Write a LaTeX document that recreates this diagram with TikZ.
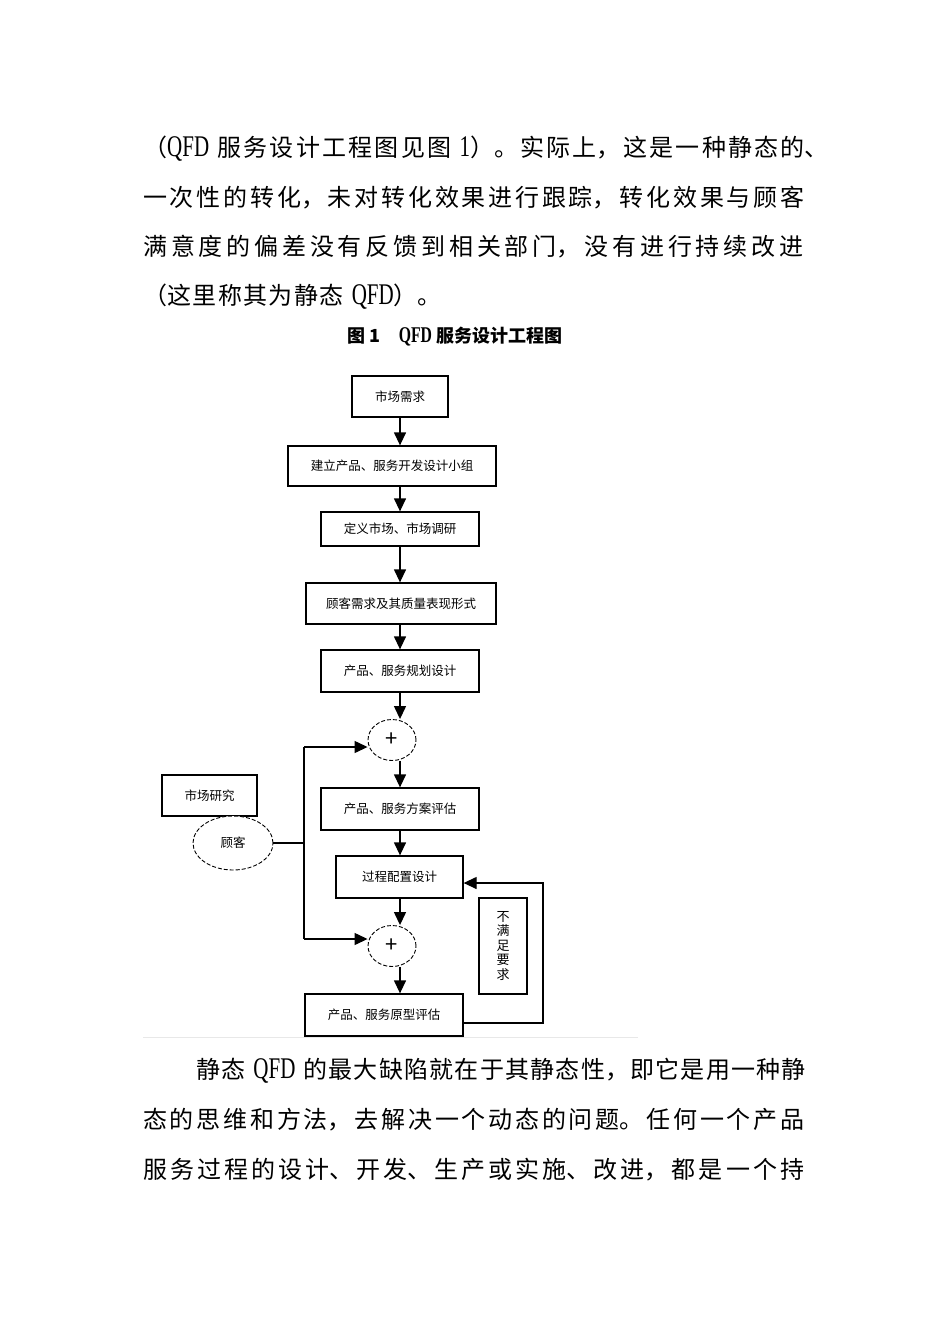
\documentclass[tikz,border=0pt]{standalone}
\usepackage{fontspec}
\usepackage{tikz}
\usetikzlibrary{shapes.geometric, arrows.meta, positioning, calc}
\setmainfont{Noto Sans CJK SC}
\newfontfamily\latinfont[FakeStretch=0.7, Scale=1.25]{Liberation Serif}
\XeTeXlinebreaklocale "zh"
\XeTeXlinebreakskip=0pt plus 1fil
\definecolor{rulegray}{RGB}{232,232,232}

\begin{document}
\begin{tikzpicture}[
    x=1pt, y=-1pt,
    box/.style={rectangle, draw, line width=1.3pt, inner sep=0pt, font=\fontsize{12.5}{15}\selectfont},
    sum/.style={ellipse, draw, fill=white, dash pattern=on 4pt off 2pt, line width=0.9pt, minimum width=48pt, minimum height=41pt, inner sep=0pt, font=\fontsize{22}{22}\selectfont},
    arr/.style={-{Triangle[length=13pt, width=12pt]}, line width=1.3pt},
    link/.style={line width=1.3pt},
    txt/.style={anchor=west, inner sep=0pt, font=\fontsize{24}{24}\selectfont}
]
    \fill[white] (0,0) rectangle (950,1344);
    \useasboundingbox (0,0) rectangle (950,1344);

    % text above the figure
    \node[txt, text width=664pt] (l1) at (143,149) {\parfillskip=0pt （{\latinfont QFD} 服务设计工程图见图 {\latinfont 1}）。实际上，这是一种静态的\rlap{、}};
    \node[txt, text width=664pt] (l2) at (143,198) {\parfillskip=0pt 一次性的转化，未对转化效果进行跟踪，转化效果与顾客};
    \node[txt, text width=664pt] (l3) at (143,247) {\parfillskip=0pt 满意度的偏差没有反馈到相关部门，没有进行持续改进};
    \node[txt, text width=300pt] (l4) at (143,297) {\parfillskip=0pt （这里称其为静态 {\latinfont QFD}）。};

    % caption
    \node[font=\fontsize{18}{18}\selectfont\bfseries] (cap) at (455,337) {图 1\quad {\latinfont QFD} 服务设计工程图};

    \draw[rulegray, line width=1pt] (143,1037.5) -- (638,1037.5);

    % main column
    \node[box, minimum width=96pt, minimum height=41pt] (need) at (400,396.5) {市场需求};
    \node[box, minimum width=208pt, minimum height=40pt] (team) at (392,466) {建立产品、服务开发设计小组};
    \node[box, minimum width=158pt, minimum height=34pt] (market) at (400,529) {定义市场、市场调研};
    \node[box, minimum width=190pt, minimum height=41pt] (voice) at (401,603.5) {顾客需求及其质量表现形式};
    \node[box, minimum width=158pt, minimum height=42pt] (plan) at (400,671) {产品、服务规划设计};
    \node[sum] (sumA) at (392,740) {+};
    \node[box, minimum width=158pt, minimum height=42pt] (scheme) at (400,809) {产品、服务方案评估};
    \node[box, minimum width=127pt, minimum height=42pt] (process) at (399.5,877) {过程配置设计};
    \node[sum] (sumB) at (392,946) {+};
    \node[box, minimum width=158pt, minimum height=42pt] (proto) at (384,1015) {产品、服务原型评估};

    % side inputs
    \node[box, minimum width=95pt, minimum height=41pt] (research) at (209.5,795.5) {市场研究};
    \node[sum, minimum width=80pt, minimum height=54pt, font=\fontsize{12.5}{15}\selectfont] (customer) at (233,843) {顾客};
    \node[box, minimum width=48pt, minimum height=96pt, align=center, font=\fontsize{13}{14.5}\selectfont] (fail) at (503,946) {不\\满\\足\\要\\求};

    \coordinate (col) at (400,0);
    \foreach \a/\b in {need/team, team/market, market/voice, voice/plan, plan/sumA, sumA/scheme, scheme/process, process/sumB, sumB/proto}
        \draw[arr] (col |- \a.south) -- (col |- \b.north);

    % customer feeds both sums
    \coordinate (busT) at (304,747);
    \coordinate (busB) at (304,939);
    \draw[link] (customer) -- (customer -| busT);
    \draw[link] (busT) -- (busB);
    \draw[arr] (busT) -- (busT -| sumA.west);
    \draw[arr] (busB) -- (busB -| sumB.west);

    % feedback loop
    \coordinate (fbB) at (543,1023);
    \coordinate (fbT) at (543,883);
    \draw[arr] (fbB -| proto.east) -- (fbB) -- (fbT) -- (fbT -| process.east);

    % text below the figure
    \node[txt, text width=611pt] (l5) at (196,1071) {\parfillskip=0pt 静态 {\latinfont QFD} 的最大缺陷就在于其静态性，即它是用一种静};
    \node[txt, text width=664pt] (l6) at (143,1120) {\parfillskip=0pt 态的思维和方法，去解决一个动态的问题。任何一个产品};
    \node[txt, text width=664pt] (l7) at (143,1170) {\parfillskip=0pt 服务过程的设计、开发、生产或实施、改进，都是一个持};
\end{tikzpicture}
\end{document}
